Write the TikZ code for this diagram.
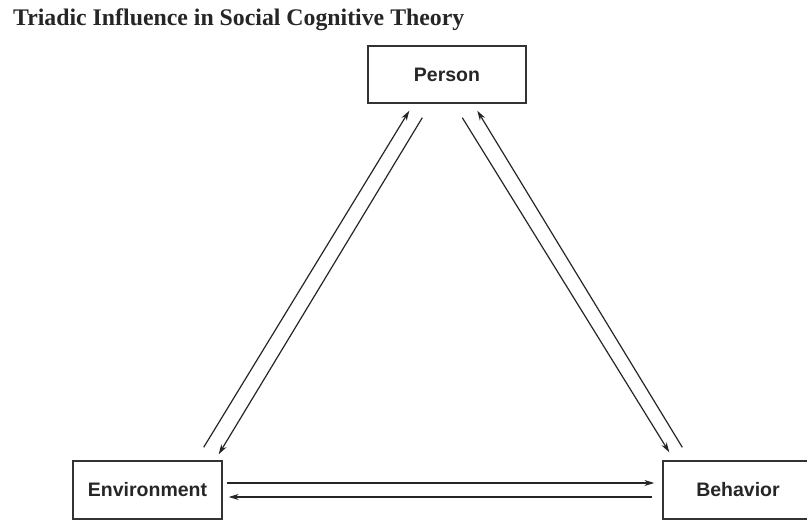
\documentclass[tikz,border=0pt]{standalone}
\usepackage{fontspec}
\setmainfont{Liberation Serif}
\setsansfont{Liberation Sans}
\usepackage{tikz}
\usetikzlibrary{arrows.meta,positioning,calc}

\begin{document}
\begin{tikzpicture}[x=1pt, y=1pt,
        box/.style={draw=black!80, line width=1.4pt, inner sep=0pt,
            minimum width=149pt, minimum height=58pt,
            font=\sffamily\bfseries\fontsize{19.5}{23}\selectfont, text=black!85},
        link/.style={draw=black!85, line width=1.2pt,
            -{Stealth[length=10pt, width=6pt]}}]
            \clip (0,0) rectangle (807,521);

            % Title
            \node[anchor=base west, inner sep=0pt, text=black!85,
                font=\bfseries\fontsize{23.8}{28}\selectfont] (title) at (13,495)
                {Triadic Influence in Social Cognitive Theory};

            % Boxes
            \node[box, minimum width=158pt, minimum height=57pt] (person) at (447,446.5) {Person};
            \node[box] (env) at (147.5,31) {Environment};
            \node[box, minimum width=150pt] (beh) at (738,31) {Behavior};

            % Arrows
            \draw[link] ([shift={(-19,13)}]env.north east) -- ([shift={(42,-7)}]person.south west);
            \draw[link] ([shift={(55,-14)}]person.south west) -- ([shift={(-4,6)}]env.north east);
            \draw[link] ([shift={(95,-14)}]person.south west) -- ([shift={(7,8)}]beh.north west);
            \draw[link] ([shift={(20,13)}]beh.north west) -- ([shift={(110,-7)}]person.south west);
            \draw[link] ([shift={(4,7)}]env.east) -- ([shift={(-8,7)}]beh.west);
            \draw[link] ([shift={(-10,-7)}]beh.west) -- ([shift={(6,-7)}]env.east);
        \end{tikzpicture}
\end{document}
